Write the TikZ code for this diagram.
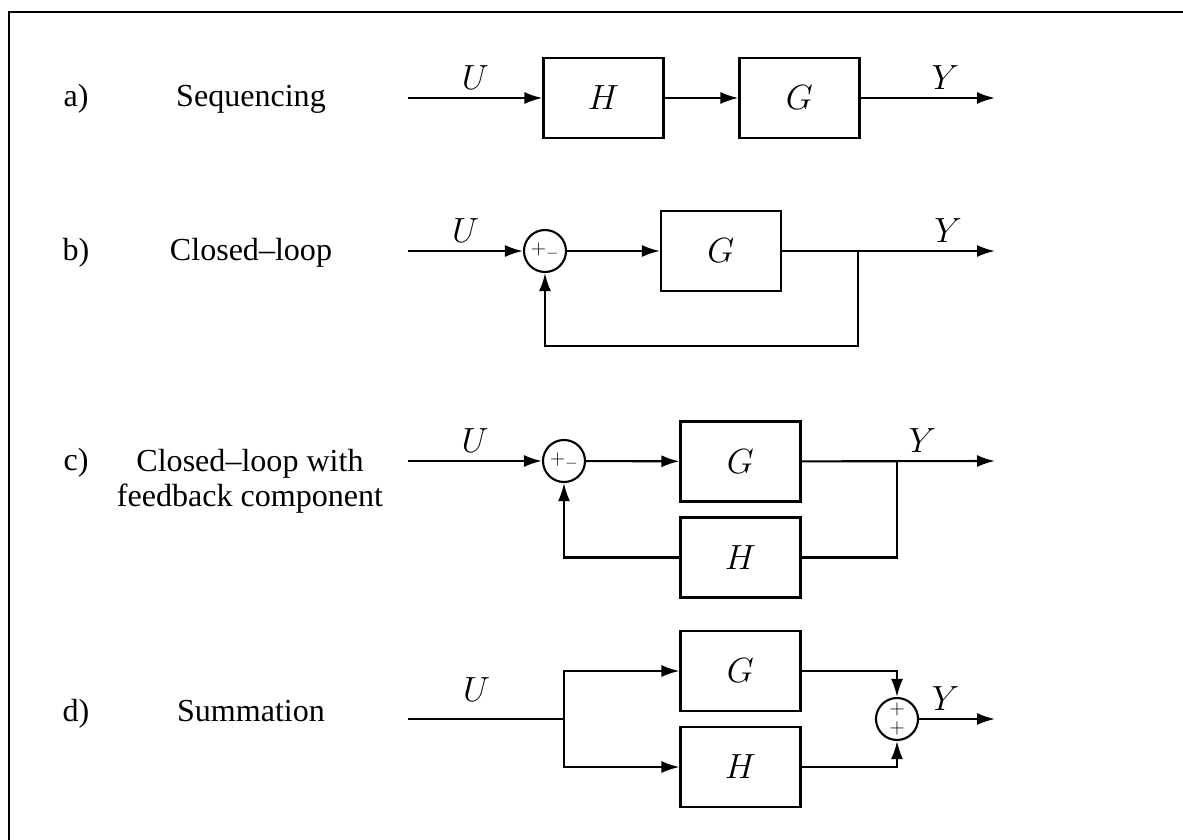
\documentclass[tikz,border=0pt]{standalone}
\usepackage{fontspec}
\setmainfont{Liberation Serif}
\usetikzlibrary{arrows.meta}

\begin{document}
\begin{tikzpicture}[x=0.025cm, y=-0.025cm,
  line width=1.5pt,
  font=\fontsize{22.8}{25}\selectfont,
  block/.style = {draw, minimum width=3cm, minimum height=2cm, inner sep=0pt,
    font=\fontsize{25}{30}\selectfont},
  sum/.style = {draw, circle, minimum size=1.05cm, inner sep=0pt, align=center,
    font=\fontsize{15}{13}\selectfont},
  arr/.style = {-{Latex[length=4.5mm, width=3mm]}},
  lbl/.style = {anchor=base, inner sep=0pt},
  sig/.style = {above, inner sep=5pt, font=\fontsize{25}{30}\selectfont}
  ]
  \useasboundingbox (0,0) rectangle (1183,840);
  \draw[line width=1.1pt] (9,840) -- (9,12) -- (1183,12);

  % a) sequencing
  \node[lbl] (taga) at (76,107) {a)};
  \node[lbl] (namea) at (251,107) {Sequencing};
  \coordinate (ina) at (408,98);
  \coordinate (outa) at (995,98);
  \node[block] (ha) at (603.5,98) {$H$};
  \node[block] (ga) at (799.5,98) {$G$};
  \draw[arr] (ina) -- node[sig] {$U$} (ha);
  \draw[arr] (ha) -- (ga);
  \draw[arr] (ga) -- node[sig, pos=0.63] {$Y$} (outa);

  % b) closed-loop
  \node[lbl] (tagb) at (76,260) {b)};
  \node[lbl] (nameb) at (251,260) {Closed--loop};
  \coordinate (inb) at (408,251);
  \coordinate (outb) at (995,251);
  \coordinate (jb) at (858,251);
  \node[sum] (sb) at (545,251) {$+_-$};
  \node[block] (gb) at (721,251) {$G$};
  \draw[arr] (inb) -- node[sig] {$U$} (sb);
  \draw[arr] (sb) -- (gb);
  \draw[arr] (gb) -- node[sig, pos=0.78] {$Y$} (outb);
  \draw[arr] (jb) -- ++(0,95) -| (sb);

  % c) closed-loop with feedback component
  \node[lbl] (tagc) at (76,470) {c)};
  \node[inner sep=0pt, anchor=north, align=center] (namec) at (250,448)
    {Closed--loop with\\feedback component};
  \coordinate (inc) at (408,461);
  \coordinate (outc) at (995,461);
  \coordinate (jc) at (897,461);
  \node[sum] (sc) at (564,461) {$+_-$};
  \node[block] (gc) at (740.5,461.5) {$G$};
  \node[block] (hc) at (740.5,557.5) {$H$};
  \draw[arr] (inc) -- node[sig] {$U$} (sc);
  \draw[arr] (sc) -- (gc);
  \draw[arr] (gc) -- (outc);
  \path (jc) -- node[sig, pos=0.26] {$Y$} (outc);
  \draw (hc) -| (jc);
  \draw[arr] (hc) -| (sc);

  % d) summation
  \node[lbl] (tagd) at (76,721) {d)};
  \node[lbl] (named) at (251,721) {Summation};
  \coordinate (ind) at (408,719);
  \coordinate (outd) at (995,719);
  \coordinate (jd) at (564,719);
  \node[block] (gd) at (740.5,671) {$G$};
  \node[block] (hd) at (740.5,767) {$H$};
  \node[sum] (sd) at (897,719) {$+$\\$+$};
  \draw (ind) -- node[sig, inner sep=12pt, pos=0.44] {$U$} (jd);
  \draw[arr] (jd) |- (gd);
  \draw[arr] (jd) |- (hd);
  \draw[arr] (gd) -| (sd);
  \draw[arr] (hd) -| (sd);
  \draw[arr] (sd) -- node[sig, pos=0.35] {$Y$} (outd);
\end{tikzpicture}
\end{document}
